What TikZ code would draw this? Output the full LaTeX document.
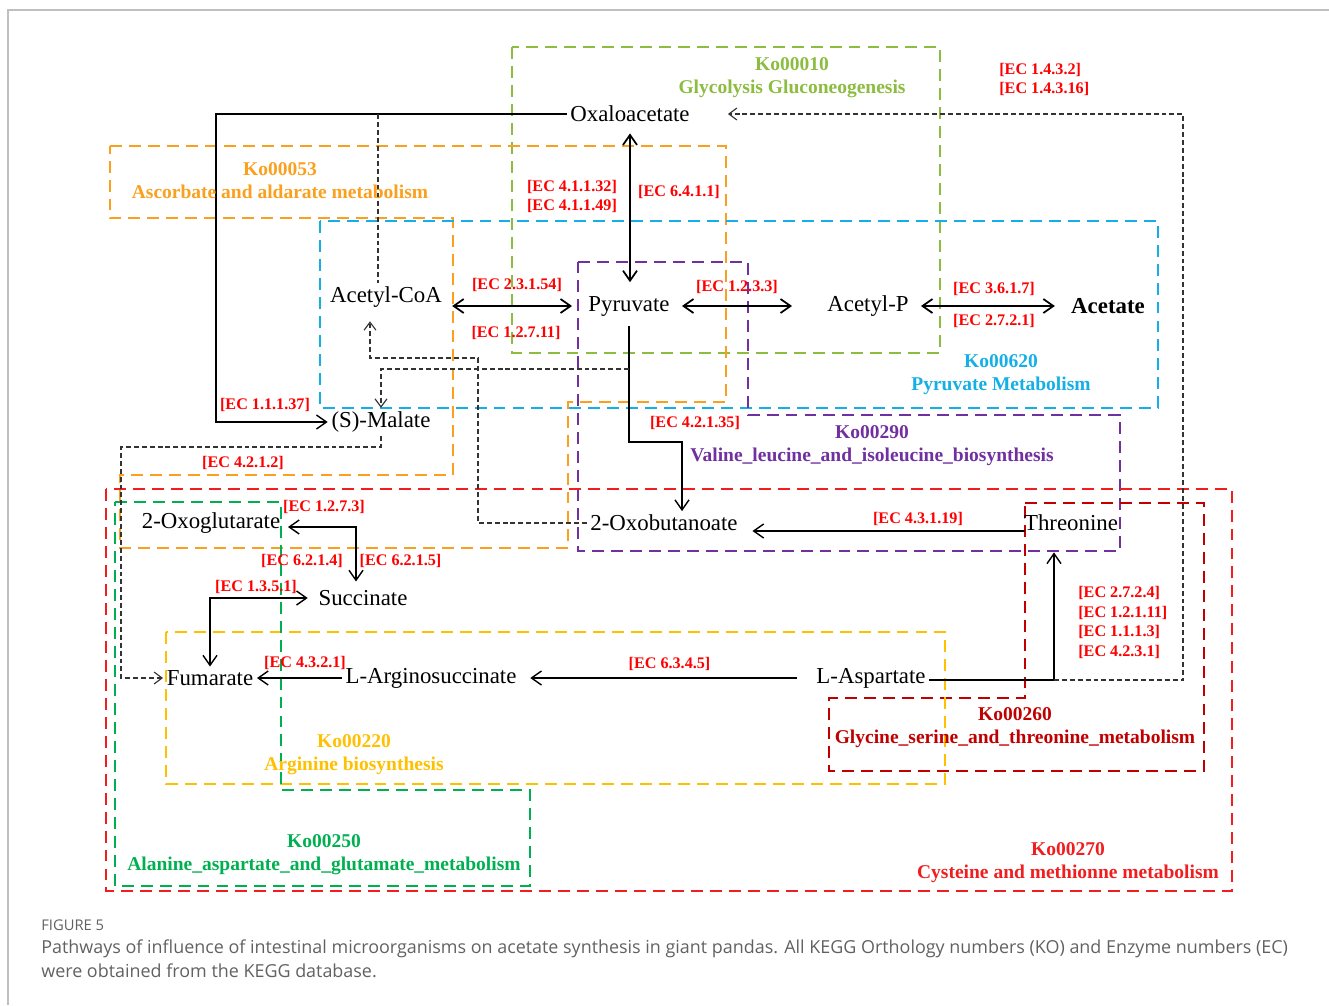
\documentclass[tikz,border=0pt]{standalone}
\usepackage{fontspec}
\setmainfont{Liberation Serif}
\newfontfamily\captionfont{Open Sans}
\usetikzlibrary{arrows.meta,positioning,backgrounds}
\definecolor{ecred}{RGB}{255,0,0}
\definecolor{glycgreen}{RGB}{140,188,64}
\definecolor{ascorange}{RGB}{250,160,30}
\definecolor{pyrblue}{RGB}{20,175,230}
\definecolor{valpurple}{RGB}{112,48,160}
\definecolor{cysred}{RGB}{240,30,30}
\definecolor{glydarkred}{RGB}{192,0,0}
\definecolor{arggold}{RGB}{255,192,0}
\definecolor{alagreen}{RGB}{0,176,80}

\begin{document}
\begin{tikzpicture}[%
    x=0.02cm, y=-0.02cm,        % one unit = one pixel of the figure, y going down
    >={Straight Barb[length=2mm,width=2.8mm]},
    ]

\tikzset{
  metab/.style={inner sep=2pt, font=\fontsize{13}{15}\selectfont},
  ec/.style={text=ecred, align=left, inner sep=0pt, font=\bfseries\fontsize{9.2}{11.2}\selectfont},
  kotitle/.style={align=center, inner sep=0pt, font=\bfseries\fontsize{11.1}{13}\selectfont},
  kobox/.style={draw, line width=1.3pt, dash pattern=on 6.8pt off 4pt},
  % -------------------------------------------------
  % connector styles
  conn/.style={->, draw, line width=0.8pt},
  both/.style={<->, draw, line width=1pt},
  dline/.style={draw, line width=0.65pt, black!80, dash pattern=on 2.8pt off 1.7pt},
  dconn/.style={dline, ->, >={Straight Barb[length=1.6mm,width=2.4mm]}},
  caption/.style={anchor=base west, inner sep=0pt, text=black!62, font=\captionfont\fontsize{10.2}{13.6}\selectfont}
}

  \useasboundingbox (0,0) rectangle (1329,1005);
  \draw[black!25, line width=0.6pt] (8,1005) -- (8,10) -- (1329,10);

  \begin{scope}

    \node[metab] (oxalo) at (630,114) {Oxaloacetate};
    \node[metab] (acetyl_coa) at (386,297) {Acetyl-CoA};
    \node[metab] (pyruvate) at (629,306) {Pyruvate};
    \node[metab] (acetyl_p) at (868,306) {Acetyl-P};
    \node[metab, font=\bfseries\fontsize{13}{15}\selectfont] (acetate) at (1108,306) {Acetate};
    \node[metab] (malate) at (381,422) {(S)-Malate};
    \node[metab] (oxoglut) at (211,523) {2-Oxoglutarate};
    \node[metab] (oxobut) at (664,523) {2-Oxobutanoate};
    \node[metab] (threonine) at (1071,523) {Threonine};
    \node[metab] (succinate) at (363,598) {Succinate};
    \node[metab] (fumarate) at (210,678) {Fumarate};
    \node[metab] (argsucc) at (431,678) {L-Arginosuccinate};
    \node[metab] (aspartate) at (871,678) {L-Aspartate};

    \draw[both, shorten <=0.15cm, shorten >=0.2cm] (oxalo.south) -- (oxalo.south |- pyruvate.north);
      \node[ec] (ec_41132) at (572,196.5) {{[EC 4.1.1.32]}\\{[EC 4.1.1.49]}};
      \node[ec] (ec_6411) at (679,192) {[EC 6.4.1.1]};

    \coordinate (oxalo_bend) at (216,114);
    \draw[conn] (oxalo.west) -- (oxalo_bend) |- (malate.west);
      \node[ec] (ec_11137) at (265,405) {[EC 1.1.1.37]};

    \coordinate (coa_top) at (378,114);
    \draw[dline] (coa_top) -- (coa_top |- acetyl_coa.north);

    \draw[both, shorten <=0.13cm, shorten >=0.25cm] (acetyl_coa.east |- pyruvate.west) -- (pyruvate.west);
      \node[ec] (ec_23154) at (517,285) {[EC 2.3.1.54]};
      \node[ec] (ec_12711) at (516,333) {[EC 1.2.7.11]};

    \draw[both, shorten <=0.17cm, shorten >=0.63cm] (pyruvate.east) -- (acetyl_p.west);
      \node[ec] (ec_1233) at (737,287) {[EC 1.2.3.3]};

    \draw[both, shorten <=0.17cm, shorten >=0.25cm] (acetyl_p.east) -- (acetate.west);
      \node[ec] (ec_3617) at (994,289) {[EC 3.6.1.7]};
      \node[ec] (ec_2721) at (994,321) {[EC 2.7.2.1]};

    \coordinate (thr_join) at (1054,680);
    \draw[conn, shorten >=0.35cm] (aspartate.east |- thr_join) -- (thr_join) -- (thr_join |- threonine.south);
      \node[ec, anchor=west] (ec_2724) at (1078,622.5) {{[EC 2.7.2.4]}\\{[EC 1.2.1.11]}\\{[EC 1.1.1.3]}\\{[EC 4.2.3.1]}};

    \draw[dconn, shorten >=0.69cm] (thr_join) -- ++(129,0) |- (oxalo.east);
      \node[ec, anchor=west] (ec_1432) at (999,79.5) {{[EC 1.4.3.2]}\\{[EC 1.4.3.16]}};

    \draw[conn, shorten <=-0.1cm, shorten >=0.22cm] ([yshift=-0.16cm]threonine.west) -- ([yshift=-0.16cm]oxobut.east);
      \node[ec] (ec_43119) at (918,519) {[EC 4.3.1.19]};

    \coordinate (pyr_bend) at (682,442);
    \draw[conn, shorten <=0.12cm] (pyruvate.south) |- (pyr_bend) -- (pyr_bend |- oxobut.north);
      \node[ec] (ec_42135) at (695,423) {[EC 4.2.1.35]};

    \coordinate (pyr_dash) at (629,369);
    \draw[dconn] (pyr_dash) -| (malate.north);

    \coordinate (oxobut_bend) at (478,358);
    \draw[dconn, shorten >=0.2cm] (oxobut.west) -| (oxobut_bend) -| ([xshift=-0.32cm]acetyl_coa.south);

    \coordinate (malate_bend) at (121,447);
    \draw[dconn] (malate.south) |- (malate_bend) |- (fumarate.west);
      \node[ec] (ec_4212) at (243,463) {[EC 4.2.1.2]};

    \draw[both, line width=0.8pt, shorten <=0.08cm, shorten >=0.1cm] ([yshift=-0.08cm]oxoglut.east) -| ([xshift=-0.14cm]succinate.north);
      \node[ec] (ec_1273) at (324,507) {[EC 1.2.7.3]};
      \node[ec] (ec_6214) at (302,561) {[EC 6.2.1.4]};
      \node[ec] (ec_6215) at (400.5,561) {[EC 6.2.1.5]};

    \draw[both, line width=0.8pt, shorten <=0.14cm] (succinate.west) -| (fumarate.north);
      \node[ec] (ec_1351) at (256,587) {[EC 1.3.5.1]};

    \draw[conn] (argsucc.west) -- (fumarate.east);
      \node[ec] (ec_4321) at (305,663) {[EC 4.3.2.1]};

    \draw[conn, shorten <=0.31cm, shorten >=0.2cm] (aspartate.west) -- (argsucc.east);
      \node[ec] (ec_6345) at (669.5,664) {[EC 6.3.4.5]};

    % pathway titles
    \node[kotitle, text=glycgreen] (ko_glyc) at (792,77.5) {Ko00010\\Glycolysis Gluconeogenesis};
    \node[kotitle, text=ascorange] (ko_asc) at (280,180.5) {Ko00053\\Ascorbate and aldarate metabolism};
    \node[kotitle, text=pyrblue] (ko_pyr) at (1001,374.5) {Ko00620\\Pyruvate Metabolism};
    \node[kotitle, text=valpurple] (ko_val) at (872,445.5) {Ko00290\\Valine\_leucine\_and\_isoleucine\_biosynthesis};
    \node[kotitle, text=glydarkred] (ko_gly) at (1015,727.5) {Ko00260\\Glycine\_serine\_and\_threonine\_metabolism};
    \node[kotitle, text=arggold] (ko_arg) at (354,754.5) {Ko00220\\Arginine biosynthesis};
    \node[kotitle, text=alagreen] (ko_ala) at (324,854.5) {Ko00250\\Alanine\_aspartate\_and\_glutamate\_metabolism};
    \node[kotitle, text=cysred] (ko_cys) at (1068,862.5) {Ko00270\\Cysteine and methionne metabolism};

    \node[caption, font=\captionfont\fontsize{8.4}{10}\selectfont] (fig_label) at (41,930) {FIGURE 5};
    \node[caption] (fig_caption) at (41,953) {Pathways of influence of intestinal microorganisms on acetate synthesis in giant pandas. All KEGG Orthology numbers (KO) and Enzyme numbers (EC)};
    \node[caption] (fig_caption_end) at (41,977) {were obtained from the KEGG database.};
  \end{scope}

  \begin{pgfonlayer}{background}
    \draw[kobox, glycgreen] (512,47) rectangle (940,353);
    \draw[kobox, ascorange] (110,146) -- (726,146) -- (726,402) -- (568,402) -- (568,548) -- (120,548)
      -- (120,475) -- (453,475) -- (453,218) -- (110,218) -- cycle;
    \draw[kobox, pyrblue] (320,221) rectangle (1158,408);
    \draw[kobox, valpurple] (578,262) -- (748,262) -- (748,415) -- (1120,415) -- (1120,551) -- (578,551) -- cycle;
    \draw[kobox, cysred] (106,489) rectangle (1232,891);
    \draw[kobox, glydarkred] (1025,503) -- (1204,503) -- (1204,771) -- (829,771) -- (829,698) -- (1025,698) -- cycle;
    \draw[kobox, arggold] (166,632) rectangle (945,784);
    \draw[kobox, alagreen] (115,502) -- (281,502) -- (281,790) -- (530,790) -- (530,886) -- (115,886) -- cycle;
  \end{pgfonlayer}
\end{tikzpicture}
\end{document}
